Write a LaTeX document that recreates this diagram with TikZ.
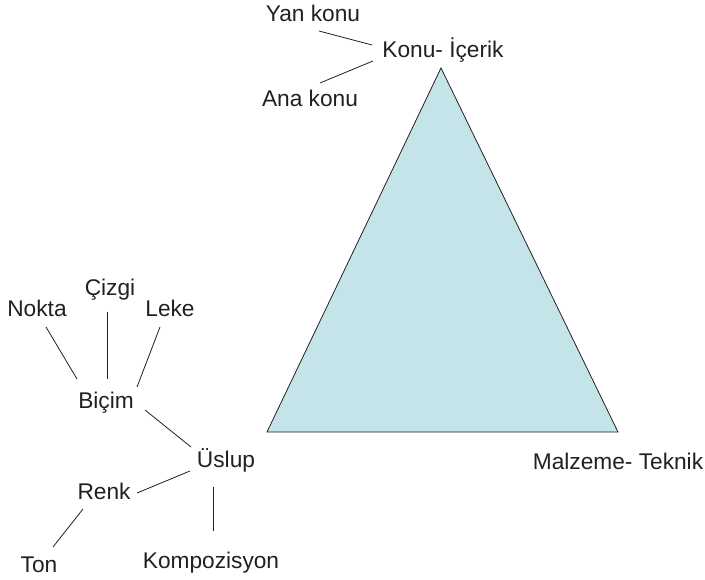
\documentclass[tikz,border=0pt]{standalone}
\usepackage{fontspec}
\setmainfont{Liberation Sans}
\usetikzlibrary{calc}
\definecolor{trifill}{RGB}{197,228,234}
\definecolor{ink}{RGB}{35,31,32}
\begin{document}
\begin{tikzpicture}[x=1pt,y=-1pt,
  lbl/.style={inner sep=0pt,anchor=base,font=\fontsize{22.7}{26}\selectfont,text=ink},
  link/.style={draw=ink,line width=0.8pt}]
\useasboundingbox (0,0) rectangle (705,580);

% triangle
\coordinate (top) at (441,68);
\coordinate (bl) at (267,432);
\coordinate (br) at (618,432);
\draw[fill=trifill,draw=ink,line width=0.8pt] (top) -- (bl) -- (br) -- cycle;

% labels (placed on their baselines)
\node[lbl] (yan) at (313,22) {Yan konu};
\node[lbl] (konu) at (443,58) {Konu- İçerik};
\node[lbl] (ana) at (310,107) {Ana konu};
\node[lbl] (nokta) at (37,317) {Nokta};
\node[lbl] (cizgi) at (110,296) {Çizgi};
\node[lbl] (leke) at (170,317) {Leke};
\node[lbl] (bicim) at (106,408) {Biçim};
\node[lbl] (uslup) at (226,467) {Üslup};
\node[lbl] (renk) at (104,499) {Renk};
\node[lbl] (ton) at (39,572) {Ton};
\node[lbl] (komp) at (211,568) {Kompozisyon};
\node[lbl] (malz) at (618,469) {Malzeme- Teknik};

% connectors
\draw[link] ($(yan.base)+(6,9)$) -- ($(konu.base)+(-71,-13)$);
\draw[link] ($(ana.base)+(10,-24)$) -- ($(konu.base)+(-70,3)$);
\draw[link] ($(nokta.base)+(9,10)$) -- ($(bicim.base)+(-29,-29)$);
\draw[link] ($(cizgi.base)+(-3,16)$) -- ($(bicim.base)+(1,-29)$);
\draw[link] ($(leke.base)+(-10,10)$) -- ($(bicim.base)+(31,-21)$);
\draw[link] ($(bicim.base)+(39,2)$) -- ($(uslup.base)+(-35,-20)$);
\draw[link] ($(uslup.base)+(-36,4)$) -- ($(renk.base)+(33,-6)$);
\draw[link] ($(uslup.base)+(-13,20)$) -- ($(komp.base)+(2,-37)$);
\draw[link] ($(renk.base)+(-21,10)$) -- ($(ton.base)+(14,-25)$);
\end{tikzpicture}
\end{document}
